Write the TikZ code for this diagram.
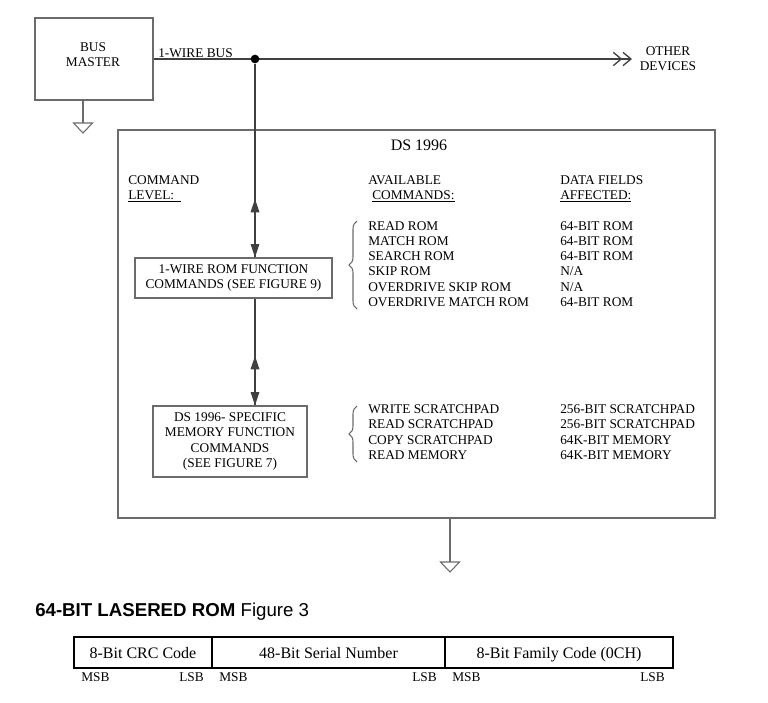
\documentclass[tikz,border=0pt]{standalone}
\usepackage{fontspec}
\setmainfont{Liberation Serif}
\newfontfamily\headfont{Liberation Sans}
\usetikzlibrary{arrows.meta,decorations.pathreplacing}
\definecolor{boxgray}{gray}{0.42}
\definecolor{busgray}{gray}{0.25}
\tikzset{
	blk/.style={draw=boxgray, line width=1pt, inner sep=0pt},
	txt/.style={inner sep=0pt, font=\fontsize{10}{11.3}\selectfont},
	wire/.style={draw=busgray, line width=0.8pt},
	both/.style={wire, {Triangle[length=10pt,width=6.5pt]}-{Triangle[length=10pt,width=6.5pt]}},
	gbrace/.style={draw=boxgray, line width=0.8pt, decorate, decoration={brace, amplitude=6pt}},
	cell/.style={draw=black, line width=0.8pt, minimum height=23.25pt, inner sep=0pt, outer sep=0pt, anchor=west,
		text height=9.5pt, text depth=0.8pt, font=\fontsize{12}{14}\selectfont},
}
\def\ground(#1){\draw[boxgray, line width=0.8pt] (#1) ++(-9.5,0) -- ++(19,0) -- ++(-9.5,10) -- cycle;}

\begin{document}
\begin{tikzpicture}[x=0.75pt, y=-0.75pt]
			\useasboundingbox (0,0) rectangle (768,703);
			%%%%% START %%%%%
			% bus master and the bus
			\node[blk, minimum width=88.5pt, minimum height=61.5pt] (master) at (94,59) {};
			\node[txt, align=center] (mastertxt) at (93,55) {BUS\\MASTER};
			\coordinate (g1) at (83,123);
			\draw[boxgray, line width=0.8pt] (g1 |- master.south) -- (g1);
			\ground(g1)
			
			\coordinate (other) at (632,59);
			\draw[wire, -{Straight Barb[length=6pt,width=10pt,line width=1pt] Straight Barb[length=6pt,width=10pt,line width=1pt]}] (master.east) -- (other);
			\node[circle, fill=black, inner sep=0pt, minimum size=6.5pt] (tap) at (255,59) {};
			\node[txt, anchor=base west] (buslbl) at (158,57.5) {1-WIRE BUS};
			\node[txt, align=center] (others) at (668,59) {OTHER\\DEVICES};
			
			% the DS 1996
			\node[blk, minimum width=447.75pt, minimum height=291pt] (ds) at (416.5,324) {};
			\node[txt, anchor=base, font=\fontsize{12}{14}\selectfont] (dstitle) at (419,150) {DS 1996};
			
			\node[txt, anchor=base west] (hcmd1) at (128,184.5) {COMMAND};
			\node[txt, anchor=base west] (hcmd2) at (128,199.5) {\underline{LEVEL:\ \ }};
			\node[txt, anchor=base west] (havl1) at (368,184.5) {AVAILABLE};
			\node[txt, anchor=base west] (havl2) at (372,199.5) {\underline{COMMANDS:}};
			\node[txt, anchor=base west] (hfld1) at (560,184.5) {DATA FIELDS};
			\node[txt, anchor=base west] (hfld2) at (560,199.5) {\underline{AFFECTED:}};
			
			\node[blk, txt, align=center, minimum width=147.75pt, minimum height=30pt] (rom) at (233.5,278)
				{1-WIRE ROM FUNCTION\\COMMANDS (SEE FIGURE 9)};
			\node[blk, txt, align=center, minimum width=115.5pt, minimum height=53.25pt] (mem) at (230,441.5)
				{DS 1996- SPECIFIC\\MEMORY FUNCTION\\COMMANDS\\(SEE FIGURE 7)};
			
			\draw[wire] (tap) -- (tap |- rom.north);
			\coordinate (up1) at (255,199);
			\draw[both] (up1) -- (up1 |- rom.north);
			\draw[wire] (tap |- rom.south) -- (tap |- mem.north);
			\coordinate (up2) at (255,356);
			\draw[both] (up2) -- (up2 |- mem.north);
			
			% command lists
			\foreach \cmd/\fld [count=\i] in {READ ROM/64-BIT ROM, MATCH ROM/64-BIT ROM, SEARCH ROM/64-BIT ROM,
				SKIP ROM/{N/A}, OVERDRIVE SKIP ROM/{N/A}, OVERDRIVE MATCH ROM/64-BIT ROM} {
				\node[txt, anchor=base west] (rc\i) at (368,{230+15.3*(\i-1)}) {\cmd};
				\node[txt, anchor=base west] (rf\i) at (560,{230+15.3*(\i-1)}) {\fld};
			}
			\draw[gbrace] (357,309) -- (357,221);
			
			\foreach \cmd/\fld [count=\i] in {WRITE SCRATCHPAD/256-BIT SCRATCHPAD, READ SCRATCHPAD/256-BIT SCRATCHPAD,
				COPY SCRATCHPAD/64K-BIT MEMORY, READ MEMORY/64K-BIT MEMORY} {
				\node[txt, anchor=base west] (mc\i) at (368,{413.5+15.3*(\i-1)}) {\cmd};
				\node[txt, anchor=base west] (mf\i) at (560,{413.5+15.3*(\i-1)}) {\fld};
			}
			\draw[gbrace] (357,462) -- (357,406);
			
			\coordinate (g2) at (450,562);
			\draw[boxgray, line width=0.8pt] (g2 |- ds.south) -- (g2);
			\ground(g2)
			
			% 64-bit lasered rom
			\node[anchor=base west, inner sep=0pt, font=\headfont\fontsize{14}{16}\selectfont] (romtitle) at (35,616)
				{\textbf{64-BIT LASERED ROM} Figure 3};
			\node[cell, minimum width=103.5pt] (crc) at (74,652.5) {8-Bit CRC Code};
			\node[cell, minimum width=174.75pt] (serial) at (crc.east) {48-Bit Serial Number};
			\node[cell, minimum width=171pt] (family) at (serial.east) {8-Bit Family Code (0CH)};
			\foreach \c in {crc,serial,family} {
				\node[txt, anchor=base west] (\c msb) at ([shift={(7,13)}]\c.south west) {MSB};
				\node[txt, anchor=base east] (\c lsb) at ([shift={(-8,13)}]\c.south east) {LSB};
			}
			%%%%% END %%%%%
\end{tikzpicture}
\end{document}
